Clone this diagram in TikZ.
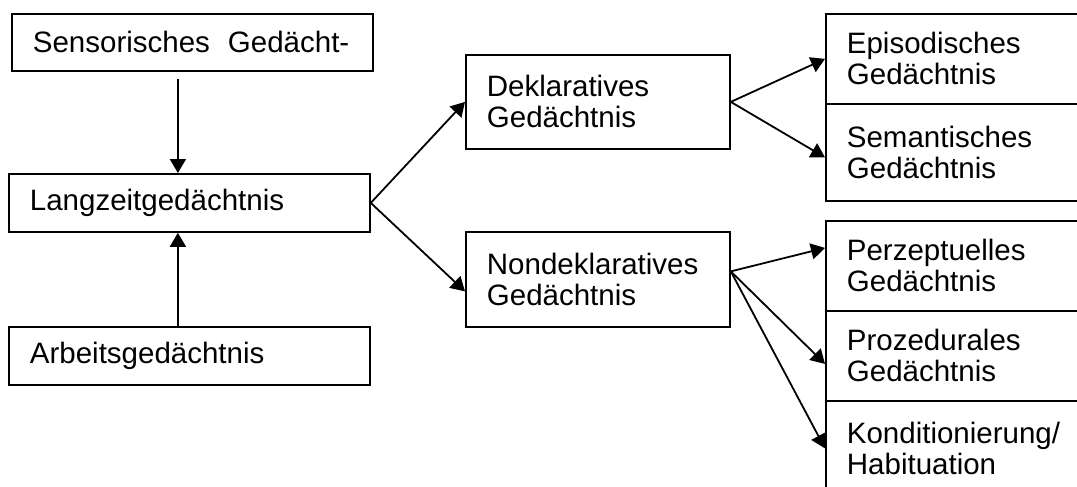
\documentclass[tikz,border=0pt]{standalone}
\usepackage{fontspec}
\setmainfont{Liberation Sans}
\usetikzlibrary{arrows.meta}
\tikzset{
	box/.style={draw, rectangle, anchor=north west, align=left, inner xsep=21pt, inner ysep=0pt},
	arr/.style={-{Triangle[length=14pt,width=16pt]}}
}
\begin{document}
\begin{tikzpicture}[x=1pt, y=-1pt, line width=1.8pt, font=\fontsize{29.5}{31}\selectfont]
		\useasboundingbox (0,0) rectangle (1077,487);
		\clip (0,0) rectangle (1077,487);
		% linke Spalte
		\node[box, text width=319pt, minimum height=57pt] (sens) at (11,13) {Sensorisches\hspace{18pt}Gedächt-};
		\node[box, text width=319pt, minimum height=58pt] (lang) at (8,173) {Langzeitgedächtnis};
		\node[box, text width=319pt, minimum height=58pt] (arb) at (8,326) {Arbeitsgedächtnis};
		% mittlere Spalte
		\node[box, text width=222pt, minimum height=94pt] (dekl) at (465,54) {Deklaratives\\Gedächtnis};
		\node[box, text width=222pt, minimum height=95pt] (nondekl) at (465,231) {Nondeklaratives\\Gedächtnis};
		% rechte Spalte
		\node[box, text width=300pt, minimum height=90pt] (epi) at (825,13) {Episodisches\\Gedächtnis};
		\node[box, text width=300pt, minimum height=97pt] (sem) at (825,103) {Semantisches\\Gedächtnis};
		\node[box, text width=300pt, minimum height=90pt] (perz) at (825,220) {Perzeptuelles\\Gedächtnis};
		\node[box, text width=300pt, minimum height=90pt] (proz) at (825,310) {Prozedurales\\Gedächtnis};
		\node[box, text width=300pt, minimum height=95pt] (kond) at (825,400) {Konditionierung/\\Habituation};
		% Pfeile
		\draw[arr] ([xshift=-14.5pt,yshift=-7pt]sens.south) -- ([xshift=-14.5pt]sens.south |- lang.north);
		\draw[arr] ([xshift=-11.5pt]arb.north) -- ([xshift=-11.5pt]lang.south);
		\draw[arr] (lang.east) -- (dekl.west);
		\draw[arr] (lang.east) -- ([yshift=-12pt]nondekl.west);
		\draw[arr] (dekl.east) -- (epi.west);
		\draw[arr] (dekl.east) -- ([yshift=-5pt]sem.west);
		\draw[arr] ([yshift=8pt]nondekl.east) -- ([yshift=18pt]perz.west);
		\draw[arr] ([yshift=8pt]nondekl.east) -- ([yshift=-8pt]proz.west);
		\draw[arr] ([yshift=8pt]nondekl.east) -- (kond.west);
	\end{tikzpicture}
\end{document}
